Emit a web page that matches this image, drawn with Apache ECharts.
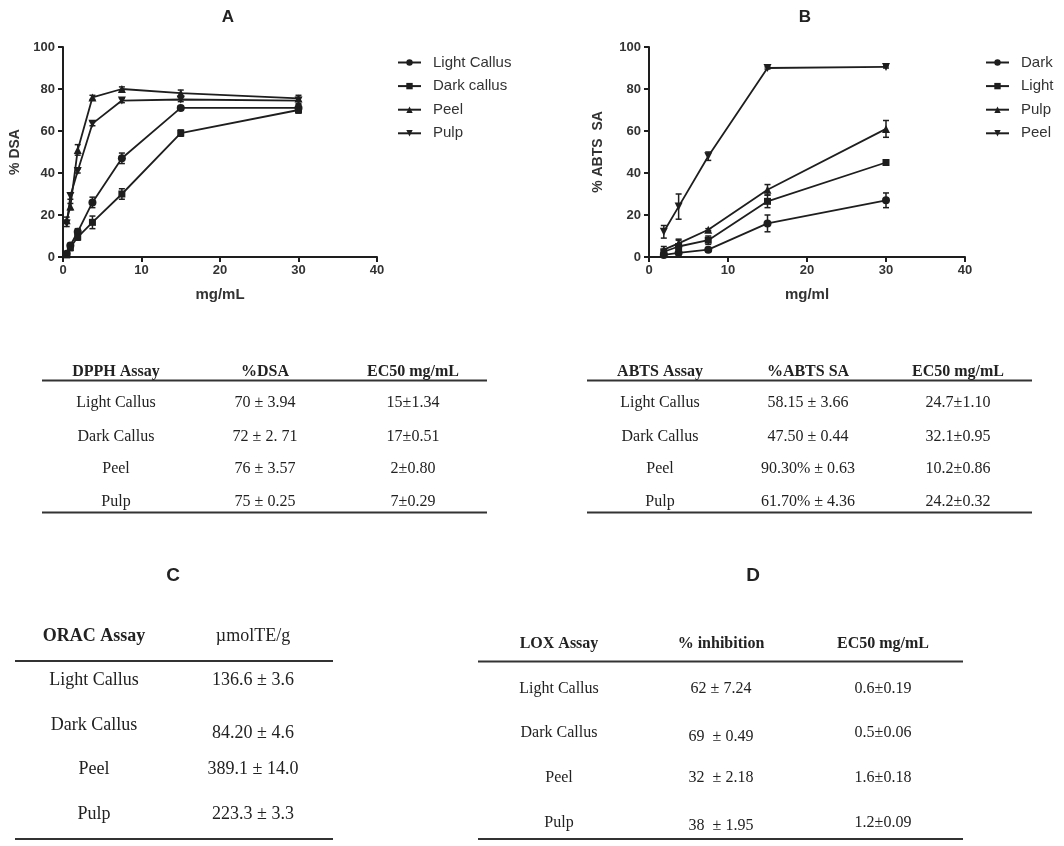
<!DOCTYPE html>
<html>
<head>
<meta charset="utf-8">
<script src="https://cdn.jsdelivr.net/npm/echarts@6/dist/echarts.min.js"></script>
<style>
html,body{margin:0;padding:0;background:#fff;}
#main{width:1064px;height:846px;}
</style>
</head>
<body>
<div id="main"></div>
<script>
// panel A - DPPH
var aDose = [0.47, 0.94, 1.875, 3.75, 7.5, 15, 30];
var aLight = [1.5, 5.5, 12, 26, 47, 71, 71];
var aDark = [1, 4.5, 9.5, 16.5, 30, 59, 70];
var aPeel = [17.5, 24, 51, 76, 80, 78, 75.5];
var aPulp = [16, 29, 41, 63.5, 74.5, 75, 74.5];
var aLightErr = [1, 1, 1.5, 2.5, 2.5, 1, 1.5];
var aDarkErr = [1, 1.5, 1.5, 3, 2.5, 1.5, 1.5];
var aPeelErr = [1.5, 1.5, 2.5, 1, 1, 1.5, 1.5];
var aPulpErr = [1.5, 1.5, 1, 1, 1, 1, 1.5];

// panel B - ABTS
var bDose = [1.875, 3.75, 7.5, 15, 30];
var bDark = [1, 2, 3.5, 16, 27];
var bLight = [2.5, 5, 8, 26.5, 45];
var bPulp = [3.5, 6.5, 13, 32, 61];
var bPeel = [12, 24, 48, 90, 90.5];
var bDarkErr = [0.5, 1, 1, 4, 3.5];
var bLightErr = [1, 3, 2, 3, 0.5];
var bPulpErr = [1.5, 2, 0.5, 2.5, 4];
var bPeelErr = [3, 6, 2, 0.5, 0.5];

// tables
var samples = ['Light Callus', 'Dark Callus', 'Peel', 'Pulp'];
var dpphHead = ['DPPH Assay', '%DSA', 'EC50 mg/mL'];
var dpphDSA = ['70 ± 3.94', '72 ± 2. 71', '76 ± 3.57', '75 ± 0.25'];
var dpphEC50 = ['15±1.34', '17±0.51', '2±0.80', '7±0.29'];
var abtsHead = ['ABTS Assay', '%ABTS SA', 'EC50 mg/mL'];
var abtsSA = ['58.15 ± 3.66', '47.50 ± 0.44', '90.30% ± 0.63', '61.70% ± 4.36'];
var abtsEC50 = ['24.7±1.10', '32.1±0.95', '10.2±0.86', '24.2±0.32'];
var oracHead = ['ORAC Assay', 'µmolTE/g'];
var oracVal = ['136.6 ± 3.6', '84.20 ± 4.6', '389.1 ± 14.0', '223.3 ± 3.3'];
var loxHead = ['LOX Assay', '% inhibition', 'EC50 mg/mL'];
var loxInh = ['62 ± 7.24', '69  ± 0.49', '32  ± 2.18', '38  ± 1.95'];
var loxEC50 = ['0.6±0.19', '0.5±0.06', '1.6±0.18', '1.2±0.09'];

var INK = '#1e1e1e';
var SANS = '"Liberation Sans", Arial, sans-serif';
var SERIF = '"Liberation Serif", "Times New Roman", serif';
var downTri = 'path://M0,0L10,0L5,9Z';

function pairs(xs, ys){
  var out = [];
  for (var i = 0; i < xs.length; i++) out.push([xs[i], ys[i]]);
  return out;
}
function errs(xs, ys, es){
  var out = [];
  for (var i = 0; i < xs.length; i++) out.push([xs[i], ys[i] - es[i], ys[i] + es[i]]);
  return out;
}
function lineSeries(name, xs, ys, sym, idx){
  return {
    name: name, type: 'line', xAxisIndex: idx, yAxisIndex: idx,
    data: pairs(xs, ys), symbol: sym, symbolSize: sym === 'rect' ? 7 : 8,
    lineStyle: {color: INK, width: 1.8}, itemStyle: {color: INK},
    emphasis: {disabled: true}, z: 3
  };
}
function errRender(params, api){
  var x = api.value(0);
  var p1 = api.coord([x, api.value(1)]);
  var p2 = api.coord([x, api.value(2)]);
  var w = 3;
  var st = {stroke: INK, lineWidth: 1.5};
  return {type: 'group', children: [
    {type: 'line', shape: {x1: p1[0], y1: p1[1], x2: p2[0], y2: p2[1]}, style: st},
    {type: 'line', shape: {x1: p1[0]-w, y1: p1[1], x2: p1[0]+w, y2: p1[1]}, style: st},
    {type: 'line', shape: {x1: p2[0]-w, y1: p2[1], x2: p2[0]+w, y2: p2[1]}, style: st}
  ]};
}
function errSeries(xs, ys, es, idx){
  return {
    type: 'custom', xAxisIndex: idx, yAxisIndex: idx, renderItem: errRender,
    data: errs(xs, ys, es), encode: {x: 0, y: [1, 2]}, z: 4, silent: true
  };
}
function xAx(idx, name){
  return {
    type: 'value', gridIndex: idx, min: 0, max: 40, interval: 10,
    name: name, nameLocation: 'middle', nameGap: 30,
    nameTextStyle: {fontFamily: SANS, fontWeight: 'bold', fontSize: 15, color: '#333'},
    axisLine: {lineStyle: {color: INK, width: 2}},
    axisTick: {show: true, length: 5, lineStyle: {color: INK, width: 2}},
    axisLabel: {fontFamily: SANS, fontWeight: 'bold', fontSize: 13, color: '#333', margin: 7},
    splitLine: {show: false}
  };
}
function yAx(idx, name, gap){
  return {
    type: 'value', gridIndex: idx, min: 0, max: 100, interval: 20,
    name: name, nameLocation: 'middle', nameGap: gap, nameRotate: 90,
    nameTextStyle: {fontFamily: SANS, fontWeight: 'bold', fontSize: 14, color: '#333'},
    axisLine: {show: true, lineStyle: {color: INK, width: 2}},
    axisTick: {show: true, length: 5, lineStyle: {color: INK, width: 2}},
    axisLabel: {fontFamily: SANS, fontWeight: 'bold', fontSize: 13, color: '#333', margin: 8},
    splitLine: {show: false}
  };
}
function txt(s, x, y, font){
  return {type: 'text', x: x, y: y, silent: true, style: {
    text: s, fill: '#222', font: font,
    align: 'center', verticalAlign: 'middle', textAlign: 'center', textVerticalAlign: 'middle'
  }};
}
function hline(x1, x2, y){
  return {type: 'line', silent: true, shape: {x1: x1, y1: y, x2: x2, y2: y}, style: {stroke: '#333', lineWidth: 2}};
}
// build one table: header, columns of text, two rules
function table(head, headBold, cols, colX, headY, ruleY, rowYs, bottomY, x1, x2, size){
  var out = [];
  var bold = 'bold ' + size + 'px ' + SERIF;
  var norm = size + 'px ' + SERIF;
  for (var c = 0; c < head.length; c++) out.push(txt(head[c], colX[c], headY, headBold[c] ? bold : norm));
  out.push(hline(x1, x2, ruleY));
  for (var c2 = 0; c2 < cols.length; c2++) {
    for (var r = 0; r < cols[c2].length; r++) {
      out.push(txt(cols[c2][r], colX[c2], rowYs[c2][r], norm));
    }
  }
  out.push(hline(x1, x2, bottomY));
  return out;
}

var rowsAB = [403, 436.5, 469, 502];
var graphics = [
  txt('A', 228, 17, 'bold 17px ' + SANS),
  txt('B', 805, 17, 'bold 17px ' + SANS),
  txt('C', 173, 576, 'bold 19px ' + SANS),
  txt('D', 753, 576, 'bold 19px ' + SANS)
];
graphics = graphics.concat(
  table(dpphHead, [1, 1, 1], [samples, dpphDSA, dpphEC50], [116, 265, 413], 371.5, 380.5,
        [rowsAB, rowsAB, rowsAB], 512.5, 42, 487, 16),
  table(abtsHead, [1, 1, 1], [samples, abtsSA, abtsEC50], [660, 808, 958], 371.5, 380.5,
        [rowsAB, rowsAB, rowsAB], 512.5, 587, 1032, 16),
  table(oracHead, [1, 0], [samples, oracVal], [94, 253], 636, 661,
        [[680, 725, 769, 814], [680, 733, 769, 814]], 839, 15, 333, 18),
  table(loxHead, [1, 1, 1], [samples, loxInh, loxEC50], [559, 721, 883], 644, 661.5,
        [[689, 733, 778, 823], [689, 737, 778, 826], [689, 733, 778, 823]], 839, 478, 963, 16)
);

var chart = echarts.init(document.getElementById('main'));
var legendText = {fontFamily: SANS, fontSize: 15, color: '#333', padding: [0, 0, 0, 7]};
var option = {
  animation: false,
  backgroundColor: '#fff',
  grid: [
    {left: 63, top: 47, width: 314, height: 210},
    {left: 649, top: 47, width: 316, height: 210}
  ],
  xAxis: [xAx(0, 'mg/mL'), xAx(1, 'mg/ml')],
  yAxis: [yAx(0, '% DSA', 41), yAx(1, '% ABTS  SA', 44)],
  legend: [
    {orient: 'vertical', left: 392, top: 50, itemWidth: 23, itemHeight: 8, itemGap: 8.6,
     data: ['Light Callus', 'Dark callus', 'Peel', 'Pulp'], textStyle: legendText, selectedMode: false},
    {orient: 'vertical', left: 980, top: 50, itemWidth: 23, itemHeight: 8, itemGap: 8.6,
     data: ['Dark', 'Light', 'Pulp ', 'Peel '], textStyle: legendText, selectedMode: false}
  ],
  series: [
    lineSeries('Light Callus', aDose, aLight, 'circle', 0),
    lineSeries('Dark callus', aDose, aDark, 'rect', 0),
    lineSeries('Peel', aDose, aPeel, 'triangle', 0),
    lineSeries('Pulp', aDose, aPulp, downTri, 0),
    errSeries(aDose, aLight, aLightErr, 0),
    errSeries(aDose, aDark, aDarkErr, 0),
    errSeries(aDose, aPeel, aPeelErr, 0),
    errSeries(aDose, aPulp, aPulpErr, 0),
    lineSeries('Dark', bDose, bDark, 'circle', 1),
    lineSeries('Light', bDose, bLight, 'rect', 1),
    lineSeries('Pulp ', bDose, bPulp, 'triangle', 1),
    lineSeries('Peel ', bDose, bPeel, downTri, 1),
    errSeries(bDose, bDark, bDarkErr, 1),
    errSeries(bDose, bLight, bLightErr, 1),
    errSeries(bDose, bPulp, bPulpErr, 1),
    errSeries(bDose, bPeel, bPeelErr, 1)
  ],
  graphic: {elements: graphics}
};
chart.setOption(option);
</script>
</body>
</html>
